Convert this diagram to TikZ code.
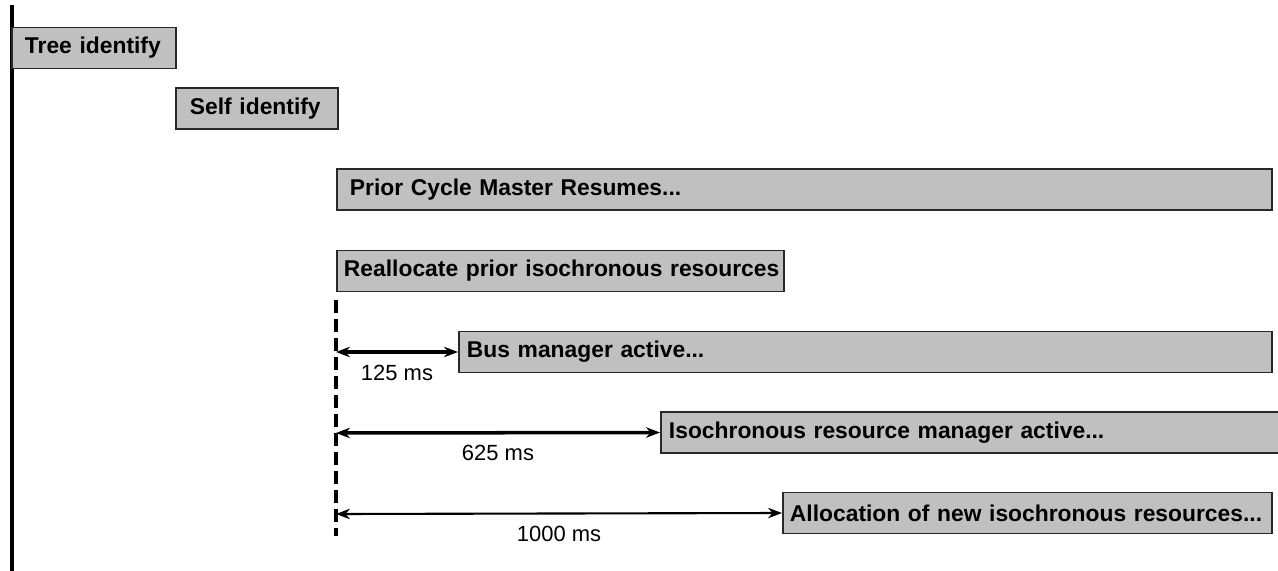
\documentclass[tikz,border=0pt]{standalone}
\usepackage{fontspec}
\setmainfont{Liberation Sans}
\usetikzlibrary{arrows.meta,positioning}
\definecolor{boxgray}{RGB}{192,192,192}
\definecolor{edgegray}{RGB}{40,40,40}

\begin{document}
\begin{tikzpicture}[x=0.02cm,y=-0.02cm,>={Stealth[length=0.28cm,width=0.21cm]},
		phase/.style={draw=edgegray,fill=boxgray,line width=1.1pt,anchor=west,minimum height=0.82cm,align=left,font=\bfseries\fontsize{13}{15}\selectfont},
		gap/.style={midway,below=3pt,font=\fontsize{12.5}{14}\selectfont}]
		\useasboundingbox (0,0) rectangle (1278,571);
		\draw[line width=2pt] (12,5) -- (12,571);
		
		\node[phase,inner xsep=0.26cm,text width=2.76cm] (tree) at (11,48) {\mbox{Tree identify}};
		\node[phase,inner xsep=0.28cm,text width=2.68cm] (self) at (175,108.5) {\mbox{Self identify}};
		\node[phase,inner xsep=0.26cm,text width=18.18cm] (prior) at (336,189.5) {Prior Cycle Master Resumes...};
		\node[phase,inner xsep=0.14cm,text width=8.66cm] (realloc) at (336,271) {\mbox{Reallocate prior isochronous resources}};
		\node[phase,inner xsep=0.16cm,text width=15.94cm] (bus) at (458,352) {Bus manager active...};
		\node[phase,inner xsep=0.16cm,text width=12.08cm] (iso) at (660,432.5) {Isochronous resource manager active...};
		\node[phase,inner xsep=0.14cm,text width=9.50cm] (alloc) at (782,513) {\mbox{Allocation of new isochronous resources...}};
		
		\coordinate (reset) at (336,300);
		\coordinate (resetend) at (336,536);
		\draw[line width=2pt,dash pattern=on 0.26cm off 0.12cm] (reset) -- (resetend);
		
		\coordinate (t125) at (336,352);
		\coordinate (t625) at (336,433);
		\coordinate (t1000) at (336,514);
		\draw[<->,line width=2pt] (t125) -- (bus.west) node[gap] {125 ms};
		\draw[<->,line width=2pt] (t625) -- (iso.west) node[gap] {625 ms};
		\draw[<->,line width=1.2pt] (t1000) -- (alloc.west) node[gap] {1000 ms};
\end{tikzpicture}
\end{document}
